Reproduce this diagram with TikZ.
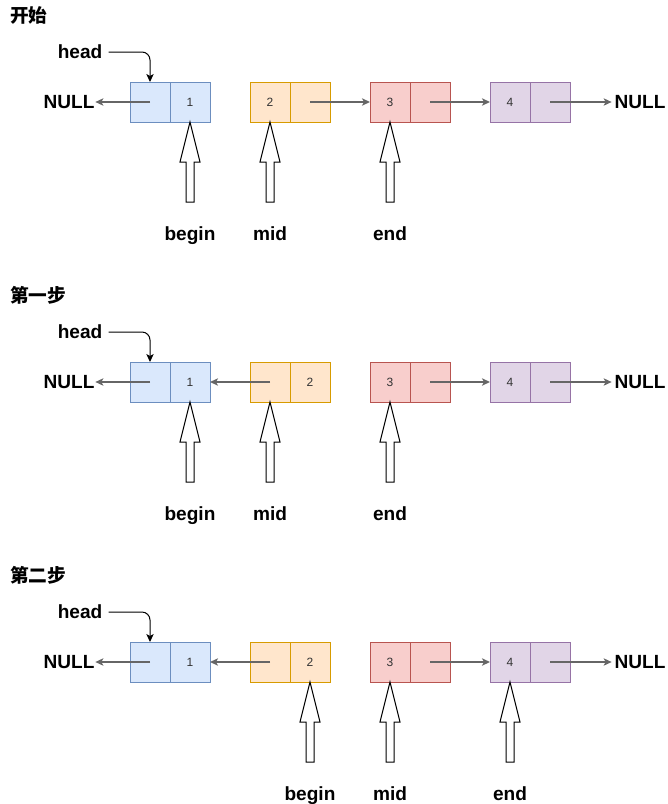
\documentclass[tikz,border=0pt]{standalone}
\usepackage{fontspec}
\setmainfont{Liberation Sans}
\newfontfamily\cjk{Noto Sans CJK SC}
\usetikzlibrary{arrows.meta}
\definecolor{bfill}{HTML}{DAE8FC}\definecolor{bdraw}{HTML}{6C8EBF}
\definecolor{ofill}{HTML}{FFE6CC}\definecolor{odraw}{HTML}{D79B00}
\definecolor{rfill}{HTML}{F8CECC}\definecolor{rdraw}{HTML}{B85450}
\definecolor{pfill}{HTML}{E1D5E7}\definecolor{pdraw}{HTML}{9673A6}
\definecolor{lnk}{HTML}{666666}
\tikzset{
  cell/.style={draw, minimum width=30pt, minimum height=30pt, inner sep=0pt, outer sep=0pt,
    line width=0.75pt, font=\fontsize{9}{10}\selectfont, text=black!80},
  lab/.style={font=\bfseries\fontsize{14.3}{16}\selectfont, inner sep=1.5pt},
  ttl/.style={font=\cjk\bfseries\fontsize{14}{16}\selectfont, inner sep=0pt, anchor=west},
  link/.style={draw=lnk, line width=1.1pt, -{Stealth[length=6pt,width=5.5pt,inset=1.5pt]}},
  harrow/.style={draw=black, line width=0.75pt, rounded corners=6pt, -{Stealth[length=6pt,width=5.5pt,inset=1.5pt]}},
  blk/.style={draw=black, fill=white, line width=0.75pt, line join=miter}
}
\begin{document}
\begin{tikzpicture}[x=0.75pt,y=-0.75pt]
\useasboundingbox (0,0) rectangle (668,804);
\foreach \s/\dy/\ttext in {1/0/开始,2/280/第一步,3/560/第二步}{
  \node[ttl] (t\s) at (10,15+\dy) {\ttext};
  % nodes
  \node[cell, fill=bfill, draw=bdraw] (s\s n1L) at (150,102+\dy) {};
  \node[cell, fill=ofill, draw=odraw] (s\s n2L) at (270,102+\dy) {};
  \node[cell, fill=rfill, draw=rdraw] (s\s n3L) at (390,102+\dy) {};
  \node[cell, fill=pfill, draw=pdraw] (s\s n4L) at (510,102+\dy) {};
  \node[cell, fill=bfill, draw=bdraw] (s\s n1R) at (190,102+\dy) {1};
  \node[cell, fill=ofill, draw=odraw] (s\s n2R) at (310,102+\dy) {};
  \node[cell, fill=rfill, draw=rdraw] (s\s n3R) at (430,102+\dy) {};
  \node[cell, fill=pfill, draw=pdraw] (s\s n4R) at (550,102+\dy) {};
  \node[font=\fontsize{9}{10}\selectfont, text=black!80] at (s\s n3L) {3};
  \node[font=\fontsize{9}{10}\selectfont, text=black!80] at (s\s n4L) {4};
  % head
  \node[lab] (h\s) at (80,52+\dy) {head};
  \draw[harrow] (h\s.east) ++(3pt,0) -| (s\s n1L.north);
  % NULLs
  \node[lab, inner sep=0.5pt] (nl\s) at (69,102+\dy) {NULL};
  \node[lab, inner sep=2pt] (nr\s) at (640,102+\dy) {NULL};
  \draw[link] (s\s n1L.center) -- (nl\s.east |- s\s n1L.center);
  \draw[link] (s\s n3R.center) -- (s\s n4L.west);
  \draw[link] (s\s n4R.center) -- (nr\s.west |- s\s n4R.center);
}
% section specific
\node[font=\fontsize{9}{10}\selectfont, text=black!80] at (s1n2L) {2};
\node[font=\fontsize{9}{10}\selectfont, text=black!80] at (s2n2R) {2};
\node[font=\fontsize{9}{10}\selectfont, text=black!80] at (s3n2R) {2};
\draw[link] (s1n2R.center) -- (s1n3L.west);
\draw[link] (s2n2L.center) -- (s2n1R.east);
\draw[link] (s3n2L.center) -- (s3n1R.east);
% block arrows
\foreach \n in {s1n1R,s1n2L,s1n3L,s2n1R,s2n2L,s2n3L,s3n2R,s3n3L,s3n4L}{
  \draw[blk] (\n.south) -- ++(10,40) -- ++(-6,0) -- ++(0,40) -- ++(-8,0) -- ++(0,-40) -- ++(-6,0) -- cycle;
}
% pointer labels
\node[lab, anchor=base] (b1) at (190,240) {begin};
\node[lab, anchor=base] (m1) at (270,240) {mid};
\node[lab, anchor=base] (e1) at (390,240) {end};
\node[lab, anchor=base] (b2) at (190,520) {begin};
\node[lab, anchor=base] (m2) at (270,520) {mid};
\node[lab, anchor=base] (e2) at (390,520) {end};
\node[lab, anchor=base] (b3) at (310,800) {begin};
\node[lab, anchor=base] (m3) at (390,800) {mid};
\node[lab, anchor=base] (e3) at (510,800) {end};
\end{tikzpicture}
\end{document}
